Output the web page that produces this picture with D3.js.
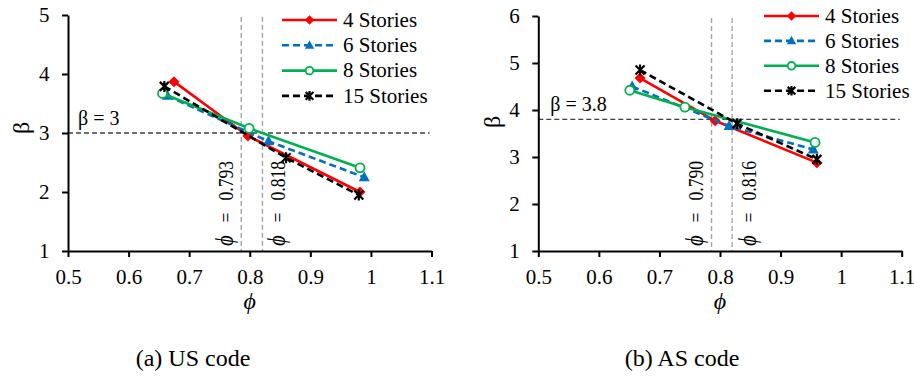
<!DOCTYPE html>
<html>
<head>
<meta charset="utf-8">
<script src="https://cdn.jsdelivr.net/npm/d3@7"></script>
<style>
  body { margin: 0; background: #fff; }
</style>
</head>
<body>
<svg id="chart" width="914" height="378"></svg>
<script>
// series names
const storyNames = ['4 Stories', '6 Stories', '8 Stories', '15 Stories'];

// (a) US code
const usPhi = [
    [0.675, 0.797, 0.982],
    [0.664, 0.831, 0.989],
    [0.656, 0.799, 0.982],
    [0.659, 0.860, 0.980]
];
const usBeta = [
    [3.87, 2.95, 2.00],
    [3.63, 2.86, 2.25],
    [3.67, 3.08, 2.41],
    [3.79, 2.58, 1.95]
];
const usTarget = 3;
const usPhiLines = [0.786, 0.821];
const usPhiLabels = ['0.793', '0.818'];

// (b) AS code
const asPhi = [
    [0.668, 0.792, 0.960],
    [0.655, 0.815, 0.954],
    [0.651, 0.742, 0.957],
    [0.668, 0.828, 0.960]
];
const asBeta = [
    [4.68, 3.77, 2.88],
    [4.50, 3.66, 3.16],
    [4.42, 4.06, 3.31],
    [4.85, 3.71, 2.95]
];
const asTarget = 3.8;
const asPhiLines = [0.786, 0.820];
const asPhiLabels = ['0.790', '0.816'];

// ticks
const xTicks = [0.5, 0.6, 0.7, 0.8, 0.9, 1, 1.1];
const usYTicks = [1, 2, 3, 4, 5];
const asYTicks = [1, 2, 3, 4, 5, 6];

const colors = ['#ff0000', '#0070c0', '#00b050', '#000000'];
const dashes = [null, '7,4', null, '7,4'];
const serif = '"Liberation Serif"';

const svg = d3.select('#chart');

function marker(g, i, cx, cy, s) {
    const c = colors[i];
    if (i === 0) {
        const r = 5.5 * s;
        g.append('path')
            .attr('d', `M${cx},${cy - r}L${cx + r},${cy}L${cx},${cy + r}L${cx - r},${cy}Z`)
            .attr('fill', c);
    } else if (i === 1) {
        g.append('path')
            .attr('d', `M${cx},${cy - 6 * s}L${cx + 5.5 * s},${cy + 4 * s}L${cx - 5.5 * s},${cy + 4 * s}Z`)
            .attr('fill', c);
    } else if (i === 2) {
        g.append('circle')
            .attr('cx', cx).attr('cy', cy).attr('r', 4.5 * s)
            .attr('fill', '#fff').attr('stroke', c).attr('stroke-width', 1.8);
    } else {
        const r = 4.5 * s;
        g.append('path')
            .attr('d', `M${cx - r},${cy - r}L${cx + r},${cy + r}M${cx - r},${cy + r}L${cx + r},${cy - r}M${cx},${cy - r - 1}L${cx},${cy + r + 1}`)
            .attr('stroke', c).attr('stroke-width', 2.2).attr('fill', 'none');
    }
}

function drawPanel(opt) {
    const x = d3.scaleLinear().domain([0.5, 1.1]).range([opt.left, opt.right]);
    const y = d3.scaleLinear().domain([1, opt.yTicks[opt.yTicks.length - 1]]).range([opt.bottom, opt.top]);
    const g = svg.append('g');

    // vertical phi lines + rotated labels
    opt.phiLines.forEach((p, k) => {
        g.append('line')
            .attr('x1', x(p)).attr('x2', x(p))
            .attr('y1', opt.top + 2).attr('y2', opt.bottom)
            .attr('stroke', '#a6a6a6').attr('stroke-width', 1.4)
            .attr('stroke-dasharray', '5,3');
        const t = g.append('text')
            .attr('transform', `translate(${x(p) + opt.labelDx[k]},246) rotate(-90) scale(0.8,1)`)
            .style('font-family', serif).style('font-size', '22px');
        t.append('tspan').style('font-style', 'italic').style('font-size', '26px').text('ϕ');
        t.append('tspan').attr('dx', 16).text('=');
        t.append('tspan').attr('dx', 15).text(opt.phiLabels[k]);
    });

    // horizontal target line
    g.append('line')
        .attr('x1', opt.left).attr('x2', opt.right - 2)
        .attr('y1', y(opt.target)).attr('y2', y(opt.target))
        .attr('stroke', '#404040').attr('stroke-width', 1.3)
        .attr('stroke-dasharray', '5,3');
    g.append('text')
        .attr('x', opt.left + opt.targetDx).attr('y', y(opt.target) - 8.5)
        .style('font-family', serif).style('font-size', '20px')
        .text(`β = ${opt.target}`);

    // axes
    const xAxis = g.append('g')
        .attr('transform', `translate(0,${opt.bottom})`)
        .call(d3.axisBottom(x).tickValues(xTicks).tickFormat(d3.format('')).tickSizeInner(6).tickSizeOuter(0).tickPadding(12));
    const yAxis = g.append('g')
        .attr('transform', `translate(${opt.left},0)`)
        .call(d3.axisLeft(y).tickValues(opt.yTicks).tickFormat(d3.format('')).tickSizeInner(6).tickSizeOuter(0).tickPadding(12.5));
    [xAxis, yAxis].forEach(a => {
        a.select('.domain').attr('stroke', '#000').attr('stroke-width', 2);
        a.selectAll('.tick line').attr('stroke', '#000').attr('stroke-width', 2);
        a.selectAll('.tick text').attr('fill', '#000')
            .style('font-family', serif).style('font-size', '21px');
    });

    // series
    opt.phi.forEach((xs, i) => {
        const pts = xs.map((v, j) => [x(v), y(opt.beta[i][j])]);
        g.append('path')
            .attr('d', d3.line()(pts))
            .attr('fill', 'none')
            .attr('stroke', colors[i])
            .attr('stroke-width', 2.6)
            .attr('stroke-dasharray', dashes[i]);
        pts.forEach(p => marker(g, i, p[0], p[1], 1));
    });

    // legend
    storyNames.forEach((name, i) => {
        const ly = opt.legY + i * opt.legStep;
        g.append('line')
            .attr('x1', opt.legX).attr('x2', opt.legX + 55)
            .attr('y1', ly).attr('y2', ly)
            .attr('stroke', colors[i]).attr('stroke-width', 2.6)
            .attr('stroke-dasharray', dashes[i]);
        marker(g, i, opt.legX + 27.5, ly, 0.85);
        g.append('text')
            .attr('x', opt.legX + 61).attr('y', ly + 6.8)
            .style('font-family', serif).style('font-size', '21px')
            .text(name);
    });

    // axis titles
    g.append('text')
        .attr('transform', `translate(${opt.left - opt.betaDx},${opt.betaY}) rotate(-90)`)
        .attr('text-anchor', 'middle')
        .style('font-family', serif).style('font-size', '24px')
        .text('β');
    g.append('text')
        .attr('x', x(0.8)).attr('y', opt.bottom + 58)
        .attr('text-anchor', 'middle')
        .style('font-family', serif).style('font-size', '24px').style('font-style', 'italic')
        .text('ϕ');

    // caption
    g.append('text')
        .attr('x', opt.capX).attr('y', 366)
        .attr('text-anchor', 'middle')
        .style('font-family', serif).style('font-size', '24px')
        .text(opt.caption);
}

drawPanel({
    left: 68, right: 431.5, top: 15, bottom: 251,
    yTicks: usYTicks, phi: usPhi, beta: usBeta,
    target: usTarget, targetDx: 10,
    phiLines: usPhiLines, phiLabels: usPhiLabels, labelDx: [-8, 23],
    legX: 282, legY: 20, legStep: 25.3,
    betaDx: 39, betaY: 128,
    capX: 193, caption: '(a) US code'
});

drawPanel({
    left: 538.3, right: 901.7, top: 16, bottom: 251,
    yTicks: asYTicks, phi: asPhi, beta: asBeta,
    target: asTarget, targetDx: 12,
    phiLines: asPhiLines, phiLabels: asPhiLabels, labelDx: [-9, 24],
    legX: 764, legY: 16, legStep: 24.9,
    betaDx: 38, betaY: 122,
    capX: 682, caption: '(b) AS code'
});
</script>
</body>
</html>
